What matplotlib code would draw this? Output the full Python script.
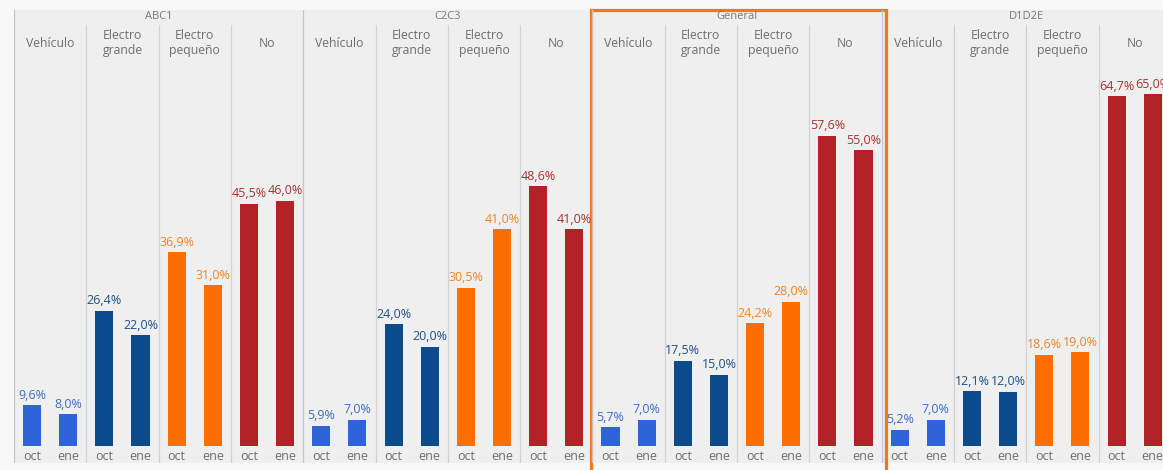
import matplotlib.pyplot as plt
from matplotlib.patches import Rectangle

plt.rcParams['font.family'] = ['Open Sans', 'DejaVu Sans']

grupos = ['ABC1', 'C2C3', 'General', 'D1D2E']
categorias = ['Vehículo', 'Electro\ngrande', 'Electro\npequeño', 'No']
meses = ['oct', 'ene']

vehiculo = [[9.6, 8.0], [5.9, 7.0], [5.7, 7.0], [5.2, 7.0]]
electro_grande = [[26.4, 22.0], [24.0, 20.0], [17.5, 15.0], [12.1, 12.0]]
electro_pequeno = [[36.9, 31.0], [30.5, 41.0], [24.2, 28.0], [18.6, 19.0]]
no_compra = [[45.5, 46.0], [48.6, 41.0], [57.6, 55.0], [64.7, 65.0]]

series = [vehiculo, electro_grande, electro_pequeno, no_compra]
colores = ['#2f63d8', '#0b4a8b', '#ff6e00', '#b32226']
colores_txt = ['#3d6cc4', '#1e4f8c', '#f0842a', '#a8322f']

base = 2.3

fig = plt.figure(figsize=(11.63, 4.70), dpi=100, facecolor='#f8f8f8')
ax = fig.add_axes([14 / 1163, 7 / 470, 1149 / 1163, 453 / 470])
ax.set_facecolor('#efefef')
ax.set_xlim(0, 1149 / 72.3)
ax.set_ylim(base - 17 / 5.61, base + 436 / 5.61)
for s in ax.spines.values():
    s.set_visible(False)
ax.set_xticks([])
ax.set_yticks([])

tr = ax.get_xaxis_transform()

for g, grupo in enumerate(grupos):
    x0 = g * 4
    ax.plot([x0, x0], [0, 1], transform=tr, color='#c4c4c4', lw=0.9)
    ax.text(x0 + 2, 0.985, grupo, transform=tr, ha='center', va='center',
            fontsize=8, color='#777777')
    for c, cat in enumerate(categorias):
        xs = x0 + c
        if c > 0:
            ax.plot([xs, xs], [0, 0.967], transform=tr, color='#d2d2d2', lw=0.9)
        ax.text(xs + 0.5, 0.927, cat, transform=tr, ha='center', va='center',
                fontsize=8.8, color='#6e6e6e', linespacing=1.25)
        for m, mes in enumerate(meses):
            v = series[c][g][m]
            xb = xs + 0.25 + 0.5 * m
            ax.bar(xb, v - base, bottom=base, width=0.25, color=colores[c])
            ax.text(xb, v + 0.6, f'{v:.1f}%'.replace('.', ','), ha='center',
                    va='bottom', fontsize=9, color=colores_txt[c])
            ax.text(xb, 0.015, mes, transform=tr, ha='center', va='center',
                    fontsize=9, color='#6e6e6e')

# recuadro de la columna General
ax.add_patch(Rectangle((7.985, -0.05), 12.06 - 7.985, 1.05, transform=tr,
                       fill=False, edgecolor='#ff7417', lw=2.3, clip_on=False))

fig.savefig('out.png', dpi=100, facecolor=fig.get_facecolor())
